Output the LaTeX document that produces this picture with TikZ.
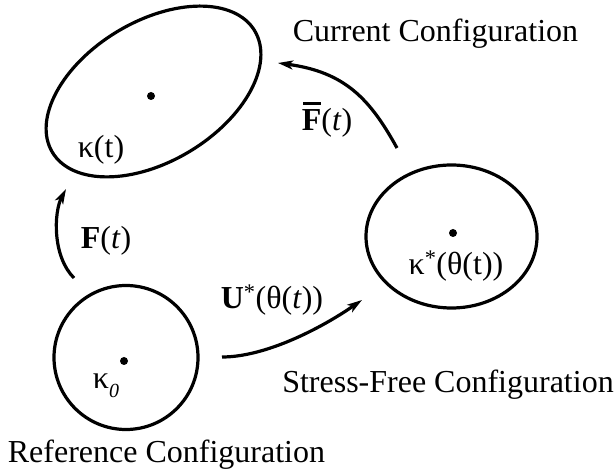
\documentclass[tikz,border=0pt]{standalone}
\usepackage{fontspec}
\setmainfont{Liberation Serif}
\usetikzlibrary{shapes.geometric,arrows.meta}
\begin{document}
\begin{tikzpicture}[x=1pt,y=1pt,
  shapeline/.style={draw, line width=3.2pt, inner sep=0pt, outer sep=0pt},
  dotmark/.style={circle, fill, inner sep=0pt, minimum size=8pt},
  lbl/.style={inner sep=0pt, font=\fontsize{32}{38}\selectfont},
  conn/.style={line width=3.2pt, -{Stealth[length=15pt,width=9pt,inset=4pt]}}]
\useasboundingbox (0,0) rectangle (616,474);
% shapes
\node[shapeline, ellipse, minimum width=236pt, minimum height=140pt, rotate=31] (cur) at (153.5,382.5) {};
\node[shapeline, ellipse, minimum width=171pt, minimum height=143pt] (sf) at (451.5,237.5) {};
\node[shapeline, circle, minimum size=144pt] (ref) at (126,116.5) {};
% dots
\node[dotmark] (dcur) at (151,378) {};
\node[dotmark] (dsf) at (453,241) {};
\node[dotmark] (dref) at (124,113) {};
% labels
\node[lbl, anchor=base] (tcur) at (435.5,432) {Current Configuration};
\node[lbl, anchor=base] (tsf) at (448,81) {Stress-Free Configuration};
\node[lbl, anchor=base] (tref) at (166.5,11) {Reference Configuration};
\node[lbl] (kt) at (101,324) {κ(t)};
\node[lbl] (ks) at (456,208) {κ\textsuperscript{*}(θ(t))};
\node[lbl] (k0) at (106,88) {κ\raisebox{-0.28em}{\fontsize{20}{20}\selectfont\textit{0}}};
\node[lbl] (lF) at (106,233) {\textbf{F}(\textit{t})};
\node[lbl] (lFb) at (327,354) {\rlap{\hspace{0.04em}\rule[0.82em]{0.56em}{0.07em}}\textbf{F}(\textit{t})};
\node[lbl] (lU) at (272,174) {\textbf{U}\textsuperscript{*}(θ(\textit{t}))};
% connector ends
\coordinate (a1) at (74,196);
\coordinate (a2) at (66,285);
\coordinate (b1) at (397,326);
\coordinate (b2) at (278,411);
\coordinate (c1) at (222,117);
\coordinate (c2) at (362,174);
\draw[conn] (a1) .. controls (52,218) and (54,262) .. (a2);
\draw[conn] (b1) .. controls (370,375) and (345,402) .. (b2);
\draw[conn] (c1) .. controls (265,117) and (320,145) .. (c2);
\end{tikzpicture}
\end{document}
